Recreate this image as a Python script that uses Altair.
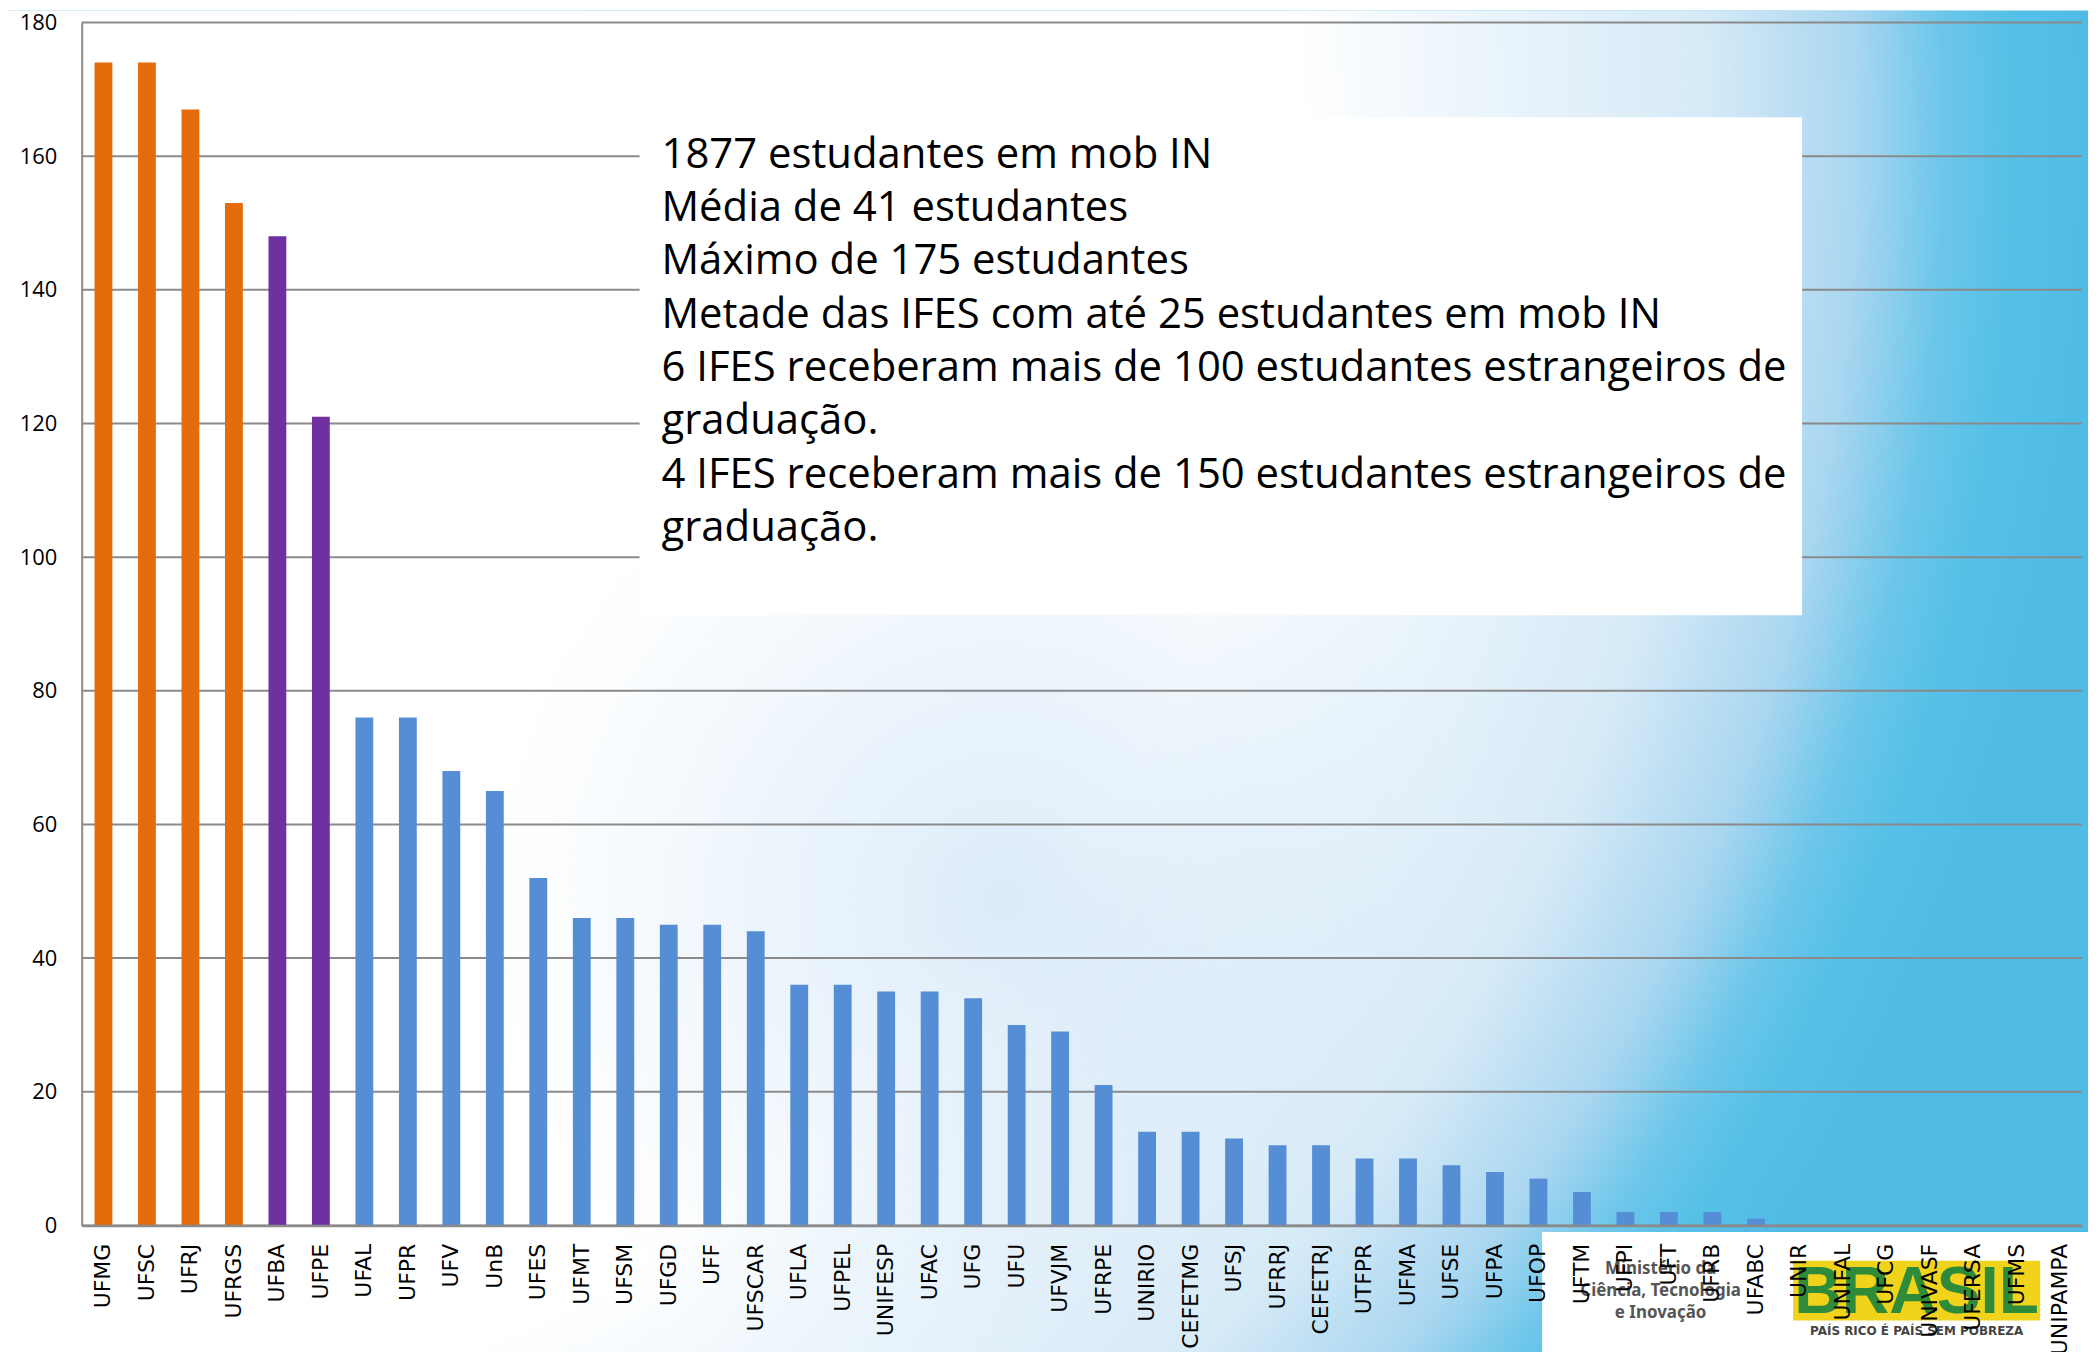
import altair as alt
import pandas as pd

# ---------------- data ----------------
categories = [
    "UFMG", "UFSC", "UFRJ", "UFRGS", "UFBA", "UFPE", "UFAL", "UFPR", "UFV", "UnB",
    "UFES", "UFMT", "UFSM", "UFGD", "UFF", "UFSCAR", "UFLA", "UFPEL", "UNIFESP", "UFAC",
    "UFG", "UFU", "UFVJM", "UFRPE", "UNIRIO", "CEFETMG", "UFSJ", "UFRRJ", "CEFETRJ", "UTFPR",
    "UFMA", "UFSE", "UFPA", "UFOP", "UFTM", "UFPI", "UFT", "UFRB", "UFABC", "UNIR",
    "UNIFAL", "UFCG", "UNIVASF", "UFERSA", "UFMS", "UNIPAMPA",
]
values = [
    174, 174, 167, 153, 148, 121, 76, 76, 68, 65,
    52, 46, 46, 45, 45, 44, 36, 36, 35, 35,
    34, 30, 29, 21, 14, 14, 13, 12, 12, 10,
    10, 9, 8, 7, 5, 2, 2, 2, 1, 0,
    0, 0, 0, 0, 0, 0,
]
groups = ["mais de 150"] * 4 + ["mais de 100"] * 2 + ["até 100"] * 40
group_domain = ["mais de 150", "mais de 100", "até 100"]
group_colors = ["#E46C0A", "#7030A0", "#558ED5"]
tick_values = [0, 20, 40, 60, 80, 100, 120, 140, 160, 180]

summary_lines = [
    "1877 estudantes em mob IN",
    "Média de 41 estudantes",
    "Máximo de 175 estudantes",
    "Metade das IFES com até 25 estudantes em mob IN",
    "6 IFES receberam mais de 100 estudantes estrangeiros de",
    "graduação.",
    "4 IFES receberam mais de 150 estudantes estrangeiros de",
    "graduação.",
]
logo_ministry_lines = ["Ministério da", "Ciência, Tecnologia", "e Inovação"]
logo_brand = "BRASIL"
logo_slogan = "PAÍS RICO É PAÍS SEM POBREZA"

# ---------------- layout ----------------
W, H = 2008, 1207.5
PAD_L, PAD_T = 74, 12

df = pd.DataFrame({"categoria": categories, "valor": values, "grupo": groups})
ticks_df = pd.DataFrame({"tick": tick_values})
one = pd.DataFrame({"k": [0]})

bg_gradient = alt.RadialGradient(
    gradient="radial",
    x1=0, y1=0.062, r1=0, x2=0, y2=0.062, r2=1,
    stops=[
        alt.GradientStop(offset=0.0, color="#FFFFFF"),
        alt.GradientStop(offset=0.62, color="#FFFFFF"),
        alt.GradientStop(offset=0.694, color="#EEF6FC"),
        alt.GradientStop(offset=0.816, color="#D6EAF7"),
        alt.GradientStop(offset=0.888, color="#A9D6F0"),
        alt.GradientStop(offset=0.93, color="#6CC6EA"),
        alt.GradientStop(offset=0.962, color="#56C0E7"),
        alt.GradientStop(offset=1.0, color="#50BCE6"),
    ],
)

blob_gradient = alt.RadialGradient(
    gradient="radial",
    x1=0.5, y1=0.5, r1=0, x2=0.5, y2=0.5, r2=0.5,
    stops=[
        alt.GradientStop(offset=0.0, color="rgba(196,222,244,0.6)"),
        alt.GradientStop(offset=0.5, color="rgba(206,228,246,0.35)"),
        alt.GradientStop(offset=1.0, color="rgba(220,236,249,0)"),
    ],
)

y_scale = alt.Scale(domain=[0, 180])
y_axis = alt.Axis(
    title=None, values=tick_values, grid=False, ticks=False, tickSize=0,
    labelFont="Open Sans", labelFontSize=22, labelColor="#000000",
    labelPadding=25, domainColor="#8A8A8A", domainWidth=2, zindex=1,
)

background = alt.Chart(one).mark_rect(fill=bg_gradient).encode(
    x=alt.value(-PAD_L), x2=alt.value(-PAD_L + 2090),
    y=alt.value(-PAD_T), y2=alt.value(-PAD_T + 2090),
)

blob = alt.Chart(one).mark_rect(fill=blob_gradient).encode(
    x=alt.value(400), x2=alt.value(1450),
    y=alt.value(358), y2=alt.value(1408),
)

grid = alt.Chart(ticks_df).mark_rule(color="#8A8A8A", strokeWidth=2).encode(
    y=alt.Y("tick:Q", scale=y_scale, axis=y_axis),
    x=alt.value(0), x2=alt.value(W),
)

text_box = alt.Chart(one).mark_rect(fill="white").encode(
    x=alt.value(560), x2=alt.value(1727),
    y=alt.value(95), y2=alt.value(595),
)

bars = alt.Chart(df).mark_bar().encode(
    x=alt.X(
        "categoria:N", sort=categories,
        scale=alt.Scale(paddingInner=0.59, paddingOuter=0.295),
        axis=alt.Axis(
            title=None, labelAngle=-90, labelFont="DejaVu Sans", labelFontSize=22,
            labelColor="#000000", labelPadding=18, ticks=False, tickSize=0,
            domainColor="#8A8A8A", domainWidth=2.5, grid=False, zindex=1,
        ),
    ),
    y=alt.Y("valor:Q", scale=y_scale, axis=y_axis),
    color=alt.Color("grupo:N", scale=alt.Scale(domain=group_domain, range=group_colors), legend=None),
)

summary = alt.Chart(one).mark_text(
    align="left", baseline="top", font="Open Sans", fontSize=42,
    lineHeight=53.5, color="#000000",
).encode(x=alt.value(582), y=alt.value(112.8), text=alt.value(summary_lines))

# logo decorations (bottom right)
logo_box = alt.Chart(one).mark_rect(fill="white").encode(
    x=alt.value(1466), x2=alt.value(2020), y=alt.value(1214), y2=alt.value(1345),
)
logo_ministry = alt.Chart(one).mark_text(
    align="center", baseline="middle", font="Noto Sans", fontSize=17, fontWeight="bold",
    lineHeight=22, color="#555555",
).encode(x=alt.value(1585), y=alt.value(1251), text=alt.value(logo_ministry_lines))
logo_flag = alt.Chart(one).mark_rect(fill="#F1D31C").encode(
    x=alt.value(1718), x2=alt.value(1966), y=alt.value(1243), y2=alt.value(1303),
)
logo_brand_text = alt.Chart(one).mark_text(
    align="center", baseline="middle", font="Liberation Sans", fontSize=66, fontWeight="bold",
    color="#2E8B3A",
).encode(x=alt.value(1842), y=alt.value(1275), text=alt.value(logo_brand))
logo_slogan_text = alt.Chart(one).mark_text(
    align="center", baseline="middle", font="DejaVu Sans", fontSize=12, fontWeight="bold",
    color="#444444",
).encode(x=alt.value(1842), y=alt.value(1314), text=alt.value(logo_slogan))

chart = alt.layer(
    background, blob, logo_box, logo_ministry, logo_flag, logo_brand_text, logo_slogan_text,
    grid, text_box, bars, summary,
).properties(
    width=W, height=H,
    autosize=alt.AutoSizeParams(type="none"),
    padding={"left": PAD_L, "top": PAD_T, "right": 6, "bottom": 124},
    background="white",
).configure_view(strokeWidth=0)

chart.save("out.html", embed_options={"renderer": "svg", "actions": False})
